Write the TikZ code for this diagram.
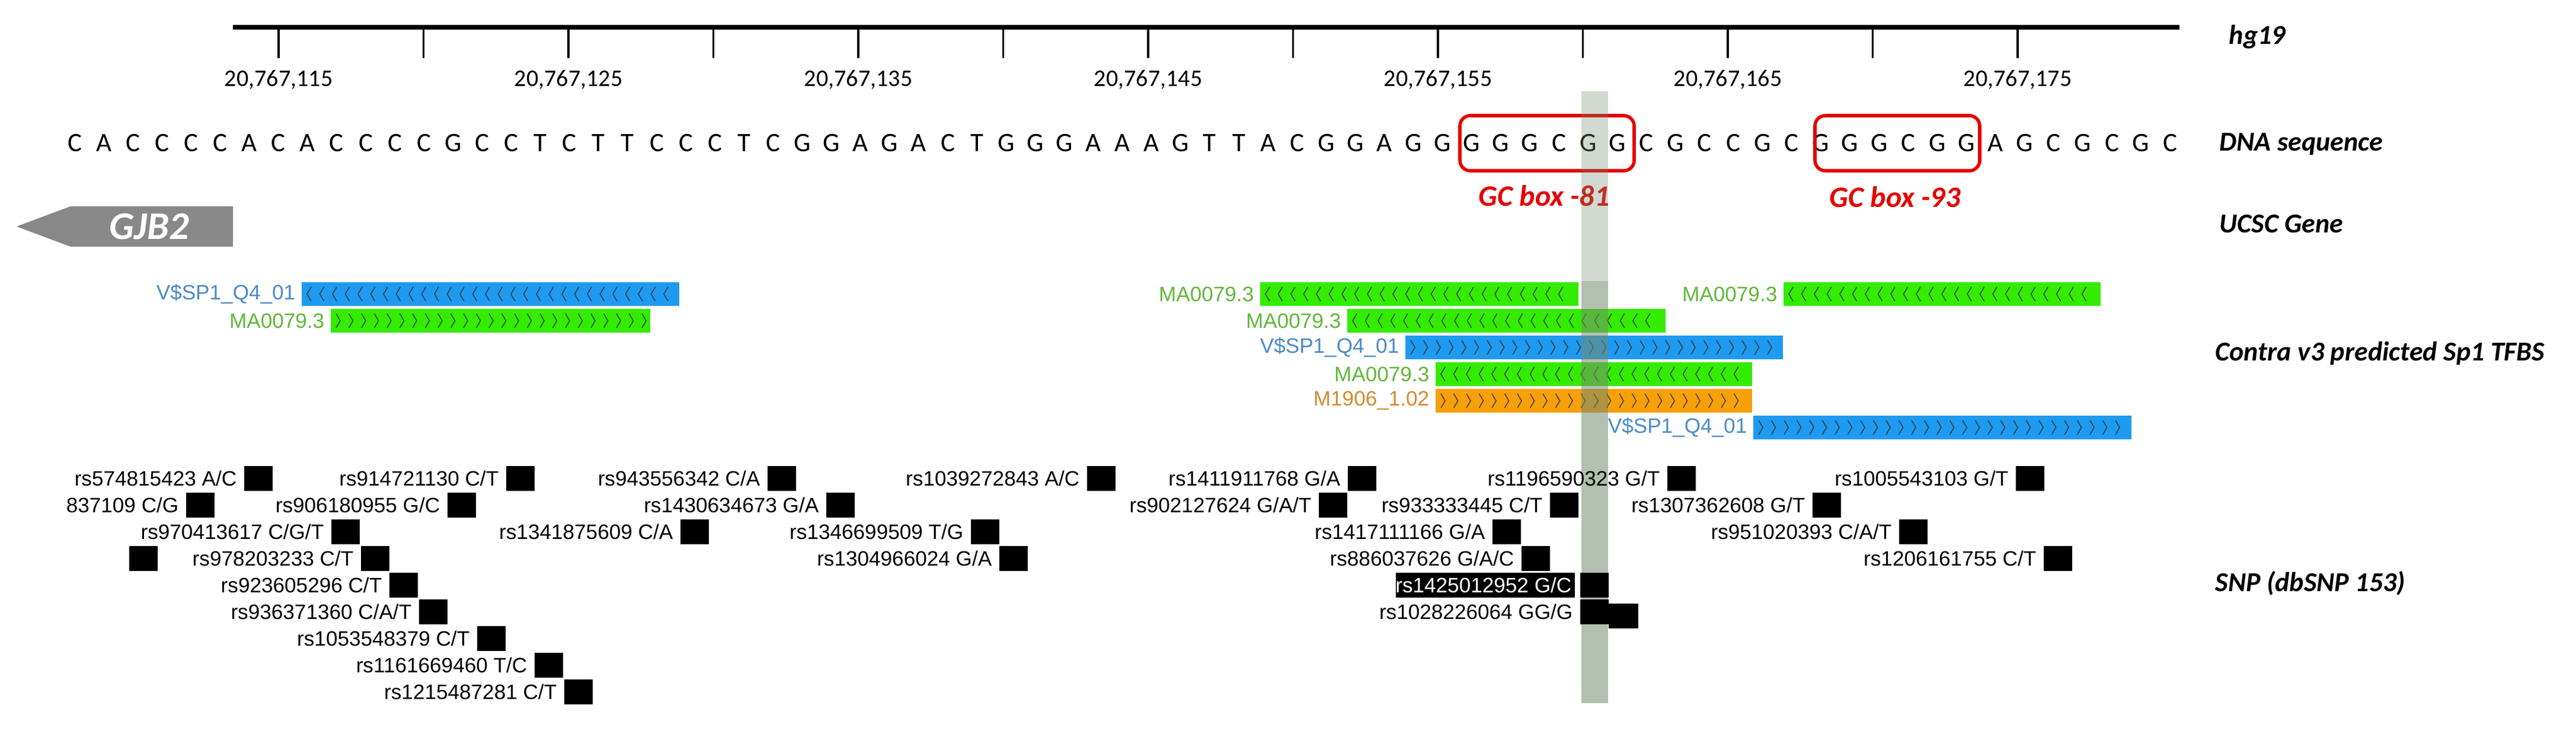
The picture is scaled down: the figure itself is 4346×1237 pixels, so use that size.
\documentclass[tikz,border=0pt]{standalone}
\usepackage{fontspec}
\setmainfont{Liberation Sans}
\newfontfamily\calib{Carlito}
\definecolor{tfgreen}{RGB}{51,236,0}
\definecolor{tfgreenlab}{RGB}{96,184,58}
\definecolor{tfblue}{RGB}{30,155,240}
\definecolor{tfbluelab}{RGB}{74,138,200}
\definecolor{tforange}{RGB}{247,160,10}
\definecolor{tforangelab}{RGB}{214,138,48}
\definecolor{bandc}{RGB}{117,139,111}
\definecolor{genegray}{RGB}{136,136,136}
\definecolor{gcred}{RGB}{230,0,0}
\newcommand\tfbar[7]{%
  \fill[#4] (#1,#3-20) rectangle (#2,#3+20);
  \pgfmathsetmacro\chstart{#1+12}
  \pgfmathsetmacro\chnext{#1+33.5}
  \pgfmathsetmacro\chend{#2-10}
  \foreach \cx in {\chstart,\chnext,...,\chend}{
    \ifnum#5=0
      \draw[black!80,line width=0.5pt,opacity=0.8] (\cx+4,#3-12) -- (\cx-3,#3) -- (\cx+4,#3+12);
    \else
      \draw[black!80,line width=0.5pt,opacity=0.8] (\cx-3,#3-12) -- (\cx+4,#3) -- (\cx-3,#3+12);
    \fi
  }
  \node[tflab,text=#7,anchor=east] at (#1-10,#3) {#6};
}
\newcommand\snp[3]{%
  \fill (#1,#2-21) rectangle (#1+48,#2+21);
  \node[snplab,anchor=east] at (#1-12,#2) {#3};
}
\begin{document}
\begin{tikzpicture}[x=0.1mm,y=-0.1mm,
  tflab/.style={font=\fontsize{10}{12}\selectfont,inner sep=0pt},
  snplab/.style={font=\fontsize{10}{12}\selectfont,inner sep=0pt},
  trk/.style={font=\calib\fontsize{13.1}{15}\selectfont\bfseries\itshape,anchor=west,inner sep=0pt},
  rulelab/.style={font=\calib\fontsize{11.4}{13}\selectfont,inner sep=0pt},
  base/.style={font=\calib\fontsize{12.8}{14}\selectfont,inner sep=0pt},
  gcbox/.style={draw=gcred,line width=1.6pt,rounded corners=5pt},
  gclab/.style={font=\calib\fontsize{14.2}{16}\selectfont\bfseries\itshape,text=gcred,inner sep=0pt}]
\useasboundingbox (0,0) rectangle (4346,1237);
% ruler
\draw[line width=2pt] (393,46) -- (3677,46);
\foreach \k in {0,...,12}{\draw[line width=0.9pt] (470+244.5*\k,46) -- (470+244.5*\k,98);}
\foreach \k/\v in {0/115,1/125,2/135,3/145,4/155,5/165,6/175}{
  \node[rulelab] (r\v) at (470+489*\k,135) {20,767,\v};}
% track labels
\node[trk] (thg) at (3760,62) {hg19};
\node[trk] (tdna) at (3744,243) {DNA sequence};
\node[trk] (tucsc) at (3744,378) {UCSC Gene};
\node[trk] (ttf) at (3737,596) {Contra v3 predicted Sp1 TFBS};
\node[trk] (tsnp) at (3737,984) {SNP (dbSNP 153)};
% sequence
\foreach \b [count=\i from 0] in {C,A,C,C,C,C,A,C,A,C,C,C,C,G,C,C,T,C,T,T,C,C,C,T,C,G,G,A,G,A,C,T,G,G,G,A,A,A,G,T,T,A,C,G,G,A,G,G,G,G,G,C,G,G,C,G,C,C,G,C,G,G,G,C,G,G,A,G,C,G,C,G,C}{
  \node[base] (b\i) at (126+49.1*\i,241) {\b};}
% GC boxes
\draw[gcbox] (2463,195) rectangle (2757,288);
\draw[gcbox] (3062,195) rectangle (3340,288);
\node[gclab] (gc81) at (2605,330) {GC box -81};
\node[gclab] (gc93) at (3197,332) {GC box -93};
% gene
\fill[genegray] (28,382) -- (119,348) -- (393,348) -- (393,416) -- (119,416) -- cycle;
\node[font=\calib\fontsize{18.8}{20}\selectfont\bfseries\itshape,text=white,inner sep=0pt] (gjb2) at (252,382) {GJB2};
% TFBS
\tfbar{509}{1146}{496}{tfblue}{0}{V\$SP1\_Q4\_01}{tfbluelab}
\tfbar{558}{1097}{541}{tfgreen}{1}{MA0079.3}{tfgreenlab}
\tfbar{2126}{2663}{496}{tfgreen}{0}{MA0079.3}{tfgreenlab}
\tfbar{3009}{3544}{496}{tfgreen}{0}{MA0079.3}{tfgreenlab}
\tfbar{2273}{2810}{541}{tfgreen}{0}{MA0079.3}{tfgreenlab}
\tfbar{2371}{3008}{586}{tfblue}{1}{V\$SP1\_Q4\_01}{tfbluelab}
\tfbar{2422}{2956}{631}{tfgreen}{0}{MA0079.3}{tfgreenlab}
\tfbar{2422}{2956}{676}{tforange}{1}{M1906\_1.02}{tforangelab}
\tfbar{2958}{3596}{721}{tfblue}{1}{V\$SP1\_Q4\_01}{tfbluelab}
% highlight band
\fill[bandc,opacity=0.33] (2668,154) rectangle (2713,474);
\fill[bandc,opacity=0.55] (2668,474) rectangle (2713,1186);
% SNPs
\snp{412}{807}{rs574815423 A/C}
\snp{854}{807}{rs914721130 C/T}
\snp{1295}{807}{rs943556342 C/A}
\snp{1834}{807}{rs1039272843 A/C}
\snp{2274}{807}{rs1411911768 G/A}
\snp{2813}{807}{rs1196590323 G/T}
\snp{3401}{807}{rs1005543103 G/T}
\snp{314}{852}{837109 C/G}
\snp{755}{852}{rs906180955 G/C}
\snp{1394}{852}{rs1430634673 G/A}
\snp{2225}{852}{rs902127624 G/A/T}
\snp{2615}{852}{rs933333445 C/T}
\snp{3058}{852}{rs1307362608 G/T}
\snp{559}{897}{rs970413617 C/G/T}
\snp{1148}{897}{rs1341875609 C/A}
\snp{1638}{897}{rs1346699509 T/G}
\snp{2518}{897}{rs1417111166 G/A}
\snp{3204}{897}{rs951020393 C/A/T}
\fill (218,921) rectangle (266,963);
\snp{609}{942}{rs978203233 C/T}
\snp{1686}{942}{rs1304966024 G/A}
\snp{2567}{942}{rs886037626 G/A/C}
\snp{3448}{942}{rs1206161755 C/T}
\snp{657}{987}{rs923605296 C/T}
\fill (2355,966) rectangle (2657,1008);
\fill (2666,966) rectangle (2714,1008);
\node[snplab,text=white,anchor=east] (hl) at (2652,987) {rs1425012952 G/C};
\snp{707}{1032}{rs936371360 C/A/T}
\snp{2666}{1032}{rs1028226064 GG/G}
\fill (2714,1018) rectangle (2764,1060);
\snp{805}{1077}{rs1053548379 C/T}
\snp{902}{1122}{rs1161669460 T/C}
\snp{952}{1167}{rs1215487281 C/T}
\end{tikzpicture}
\end{document}
